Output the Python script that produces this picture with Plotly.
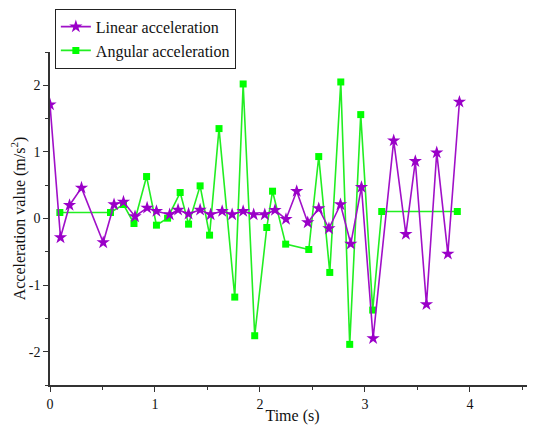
import plotly.graph_objects as go

lin_t = [0, 0.10, 0.186, 0.30, 0.507, 0.61, 0.70, 0.81, 0.925, 1.014,
         1.14, 1.22, 1.32, 1.43, 1.53, 1.64, 1.735, 1.84, 1.94, 2.046,
         2.143, 2.248, 2.35, 2.455, 2.56, 2.657, 2.767, 2.865, 2.967, 3.078,
         3.274, 3.39, 3.48, 3.586, 3.684, 3.79, 3.90]
lin_v = [1.71, -0.285, 0.20, 0.46, -0.36, 0.21, 0.25, 0.03, 0.16, 0.11,
         0.06, 0.13, 0.07, 0.13, 0.06, 0.11, 0.06, 0.11, 0.06, 0.06,
         0.125, -0.01, 0.41, -0.06, 0.15, -0.15, 0.21, -0.38, 0.47, -1.80,
         1.17, -0.235, 0.86, -1.29, 0.99, -0.53, 1.75]

ang_t = [0.094, 0.576, 0.70, 0.80, 0.92, 1.014, 1.12, 1.24, 1.32, 1.43,
         1.52, 1.61, 1.76, 1.84, 1.95, 2.065, 2.12, 2.245, 2.465, 2.56,
         2.665, 2.77, 2.855, 2.96, 3.074, 3.16, 3.88]
ang_v = [0.09, 0.09, 0.21, -0.075, 0.63, -0.10, 0.005, 0.39, -0.085, 0.49,
         -0.25, 1.35, -1.18, 2.02, -1.76, -0.135, 0.41, -0.385, -0.465, 0.93,
         -0.81, 2.05, -1.89, 1.56, -1.375, 0.105, 0.105]

x_ticks = [0, 1, 2, 3, 4]
x_labels = ["0", "1", "2", "3", "4"]
y_ticks = [-2, -1, 0, 1, 2]
y_labels = ["-2", "-1", "0", "1", "2"]

font = "Liberation Serif, Times New Roman, serif"

fig = go.Figure()
fig.add_trace(go.Scatter(
    x=ang_t, y=ang_v, mode="lines+markers", name="Angular acceleration",
    line=dict(color="#22EE22", width=1.6),
    marker=dict(symbol="square", size=7, color="#00FF00"),
))
fig.add_trace(go.Scatter(
    x=lin_t, y=lin_v, mode="lines+markers", name="Linear acceleration",
    line=dict(color="#A010C8", width=1.6),
    marker=dict(symbol="star", size=10, color="#9A00C8"),
))

axis_common = dict(
    showgrid=False, zeroline=False, showline=True, linecolor="#333333",
    linewidth=1.5, ticks="outside", ticklen=5, tickwidth=1.2, tickcolor="#333333",
    tickfont=dict(family=font, size=14, color="#111111"),
    minor=dict(ticks="outside", ticklen=3, tickcolor="#333333", dtick=0.5),
    automargin=False,
)

fig.update_layout(
    width=527, height=417,
    margin=dict(l=42, r=0, t=44, b=40),
    paper_bgcolor="white", plot_bgcolor="white",
    font=dict(family=font, size=14, color="#111111"),
    showlegend=True,
    legend=dict(
        x=0.01, y=1.13, xanchor="left", yanchor="top",
        bordercolor="#222222", borderwidth=1, bgcolor="rgba(255,255,255,0)",
        font=dict(family=font, size=16, color="#111111"),
        traceorder="reversed", tracegroupgap=0, itemwidth=30,
    ),
    xaxis=dict(range=[0, 4.62], tickvals=x_ticks, ticktext=x_labels,
               title=dict(text="Time (s)", font=dict(family=font, size=16), standoff=3),
               **axis_common),
    yaxis=dict(range=[-2.5, 2.5], tickvals=y_ticks, ticktext=y_labels,
               title=dict(text="Acceleration value (m/s<sup>2</sup>)", font=dict(family=font, size=16), standoff=6),
               **axis_common),
)

fig.write_html("out.html")
